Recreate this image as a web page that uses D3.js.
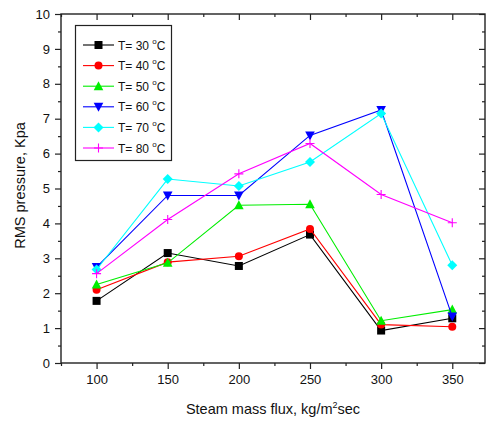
<!DOCTYPE html>
<html>
<head>
<meta charset="utf-8">
<script src="https://cdn.jsdelivr.net/npm/d3@7"></script>
<style>
  html, body { margin: 0; padding: 0; background: #fff; }
  svg { display: block; font-family: "Liberation Sans", Arial, sans-serif; }
</style>
</head>
<body>
<svg id="chart" width="486" height="421"></svg>
<script>
// Steam mass flux (kg/m²s) at which RMS pressure was measured
const massFlux = [100, 150, 200, 250, 300, 350];

// RMS pressure (kPa) per water temperature
const t30 = [1.78, 3.15, 2.78, 3.68, 0.93, 1.28];
const t40 = [2.10, 2.89, 3.06, 3.84, 1.10, 1.04];
const t50 = [2.25, 2.87, 4.52, 4.55, 1.21, 1.53];
const t60 = [2.75, 4.80, 4.80, 6.52, 7.25, 1.33];
const t70 = [2.68, 5.27, 5.07, 5.76, 7.15, 2.80];
const t80 = [2.56, 4.11, 5.42, 6.29, 4.83, 4.02];

const seriesLabels = ["30", "40", "50", "60", "70", "80"];
const xTicks = [100, 150, 200, 250, 300, 350];
const yTicks = [0, 1, 2, 3, 4, 5, 6, 7, 8, 9, 10];

const seriesValues = [t30, t40, t50, t60, t70, t80];
const colors = ["#000000", "#ff0000", "#00ee00", "#0000ff", "#00ffff", "#ff00ff"];
const shapes = ["square", "circle", "triangleUp", "triangleDown", "diamond", "plus"];

const svg = d3.select("#chart");
const plotL = 61, plotR = 485, plotT = 14, plotB = 363;

const x = d3.scaleLinear().domain([75, 373]).range([plotL, plotR]);
const y = d3.scaleLinear().domain([0, 10]).range([plotB, plotT]);

const axisColor = "#222";

// Axes: bottom/left ticks outward, top/right ticks inward
const xMinor = d3.range(75, 374, 25).filter(v => v % 50 !== 0);
const yMinor = d3.range(0.5, 10, 1);

function styleAxis(g) {
  g.selectAll(".domain").remove();
  g.selectAll("line").attr("stroke", axisColor).attr("stroke-width", 1.2);
  g.selectAll("text").attr("fill", "#111").attr("font-size", 13)
    .attr("font-family", "'Liberation Sans', Arial, sans-serif");
}

// bottom
svg.append("g").attr("transform", `translate(0,${plotB})`)
  .call(d3.axisBottom(x).tickValues(xTicks).tickSize(6).tickPadding(6).tickFormat(d3.format("d")))
  .call(styleAxis);
svg.append("g").attr("transform", `translate(0,${plotB})`)
  .call(d3.axisBottom(x).tickValues(xMinor).tickSize(3).tickFormat(""))
  .call(styleAxis);
// left
svg.append("g").attr("transform", `translate(${plotL},0)`)
  .call(d3.axisLeft(y).tickValues(yTicks).tickSize(6).tickPadding(5).tickFormat(d3.format("d")))
  .call(styleAxis);
svg.append("g").attr("transform", `translate(${plotL},0)`)
  .call(d3.axisLeft(y).tickValues(yMinor).tickSize(3).tickFormat(""))
  .call(styleAxis);
// top (inward)
svg.append("g").attr("transform", `translate(0,${plotT})`)
  .call(d3.axisTop(x).tickValues(xTicks).tickSize(-6).tickFormat(""))
  .call(styleAxis);
svg.append("g").attr("transform", `translate(0,${plotT})`)
  .call(d3.axisTop(x).tickValues(xMinor).tickSize(-3).tickFormat(""))
  .call(styleAxis);
// right (inward)
svg.append("g").attr("transform", `translate(${plotR},0)`)
  .call(d3.axisRight(y).tickValues(yTicks).tickSize(-6).tickFormat(""))
  .call(styleAxis);
svg.append("g").attr("transform", `translate(${plotR},0)`)
  .call(d3.axisRight(y).tickValues(yMinor).tickSize(-3).tickFormat(""))
  .call(styleAxis);

// Frame
svg.append("rect")
  .attr("x", plotL).attr("y", plotT)
  .attr("width", plotR - plotL).attr("height", plotB - plotT)
  .attr("fill", "none").attr("stroke", axisColor).attr("stroke-width", 1.4);

// Marker drawing
function drawMarker(g, shape, color, cx, cy) {
  const s = 4;
  if (shape === "square") {
    g.append("rect").attr("x", cx - s).attr("y", cy - s).attr("width", 2 * s).attr("height", 2 * s).attr("fill", color);
  } else if (shape === "circle") {
    g.append("circle").attr("cx", cx).attr("cy", cy).attr("r", s).attr("fill", color);
  } else if (shape === "triangleUp") {
    g.append("path").attr("d", `M${cx},${cy - s - 1}L${cx + s + 0.8},${cy + s}L${cx - s - 0.8},${cy + s}Z`).attr("fill", color);
  } else if (shape === "triangleDown") {
    g.append("path").attr("d", `M${cx},${cy + s + 1}L${cx + s + 0.8},${cy - s}L${cx - s - 0.8},${cy - s}Z`).attr("fill", color);
  } else if (shape === "diamond") {
    g.append("path").attr("d", `M${cx},${cy - s - 1}L${cx + s + 1},${cy}L${cx},${cy + s + 1}L${cx - s - 1},${cy}Z`).attr("fill", color);
  } else if (shape === "plus") {
    g.append("path").attr("d", `M${cx - s - 0.5},${cy}H${cx + s + 0.5}M${cx},${cy - s - 0.5}V${cy + s + 0.5}`)
      .attr("stroke", color).attr("stroke-width", 1.1).attr("fill", "none");
  }
}

const line = d3.line().x((d, i) => x(massFlux[i])).y(d => y(d));

const plot = svg.append("g");
seriesValues.forEach((vals, k) => {
  const g = plot.append("g");
  g.append("path").datum(vals).attr("d", line)
    .attr("fill", "none").attr("stroke", colors[k]).attr("stroke-width", 1.1);
  vals.forEach((v, i) => drawMarker(g, shapes[k], colors[k], x(massFlux[i]), y(v)));
});

// Legend
const legend = svg.append("g");
legend.append("rect").attr("x", 75.5).attr("y", 25.5).attr("width", 96).attr("height", 135)
  .attr("fill", "#fff").attr("stroke", axisColor).attr("stroke-width", 1.2);
seriesLabels.forEach((lab, k) => {
  const cy = 45 + k * 20.6;
  legend.append("line").attr("x1", 83).attr("x2", 114).attr("y1", cy).attr("y2", cy)
    .attr("stroke", colors[k]).attr("stroke-width", 1.1);
  drawMarker(legend, shapes[k], colors[k], 98.5, cy);
  const t = legend.append("text").attr("x", 118).attr("y", cy + 4.5)
    .attr("font-size", 12).attr("fill", "#111");
  t.append("tspan").text(`T= ${lab} `);
  t.append("tspan").attr("font-size", 8).attr("dy", -6).text("o");
  t.append("tspan").attr("dy", 6).text("C");
});

// Axis titles
svg.append("text").attr("x", (plotL + plotR) / 2).attr("y", 414)
  .attr("text-anchor", "middle").attr("font-size", 14.5).attr("fill", "#111")
  .call(t => {
    t.append("tspan").text("Steam mass flux, kg/m");
    t.append("tspan").attr("font-size", 9).attr("dy", -6).text("2");
    t.append("tspan").attr("dy", 6).text("sec");
  });

svg.append("text").attr("transform", `translate(25,${(plotT + plotB) / 2 - 3}) rotate(-90)`)
  .attr("text-anchor", "middle").attr("font-size", 14.5).attr("fill", "#111")
  .text("RMS pressure, Kpa");
</script>
</body>
</html>
